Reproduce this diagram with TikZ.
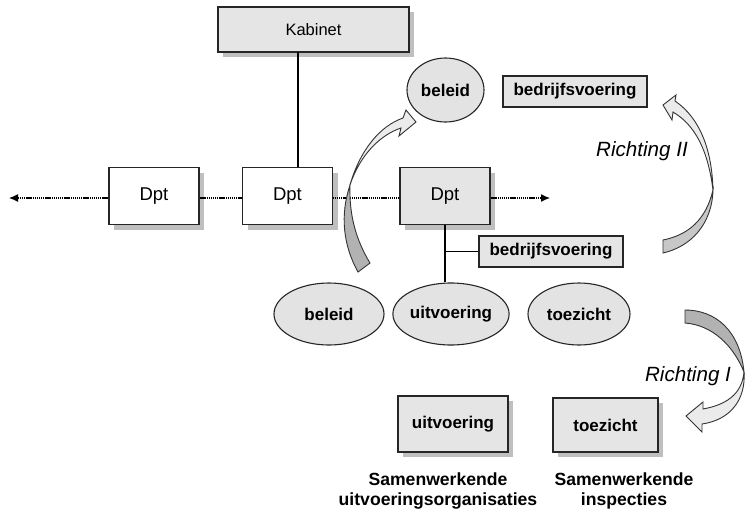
\documentclass[tikz,border=0pt]{standalone}
\usepackage{fontspec}
\setmainfont{Liberation Sans}
\usetikzlibrary{shapes.geometric,shadows,arrows.meta}

\tikzset{
  dptbox/.style={draw=black!85, line width=0.55pt, fill=white, minimum width=45pt, minimum height=28.5pt,
    inner sep=0pt, font=\fontsize{9.25}{11}\selectfont,
    drop shadow={shadow xshift=2.5pt, shadow yshift=-2.5pt, fill=black!25, opacity=1}},
  taakbox/.style={draw=black!85, line width=0.55pt, fill=black!10, inner sep=0pt, font=\fontsize{8.5}{10}\selectfont\bfseries},
  taakoval/.style={ellipse, draw=black!85, line width=0.55pt, fill=black!11, inner sep=0pt, font=\fontsize{8.5}{10}\selectfont\bfseries},
  stippel/.style={line width=0.6pt, dash pattern=on 0.6pt off 0.35pt},
  lichtpijl/.style={draw=black!80, line width=0.45pt, fill=black!8},
  donkerpijl/.style={draw=black!80, line width=0.45pt, fill=black!30},
}

\begin{document}
\begin{tikzpicture}[x=0.5pt, y=-0.5pt]
\useasboundingbox (0,0) rectangle (746,510);

% bovenste laag
\node[dptbox, fill=black!10, minimum width=95.5pt, minimum height=22.5pt,
  font=\fontsize{8.25}{10}\selectfont] (kab) at (313.5,29.5) {Kabinet};

\node[dptbox] (dpt1) at (154,196) {Dpt};
\node[dptbox] (dpt2) at (287.5,196) {Dpt};
\node[dptbox, fill=black!10] (dpt3) at (445,196) {Dpt};

\coordinate (kl) at (298,52);
\draw [line width=0.55pt] (kl) -- (kl |- dpt2.north);

\coordinate (links) at (9,198);
\coordinate (rechts) at (550,198);
\draw [stippel, -{Latex[length=4.5pt,width=4pt]}] (dpt1.west |- links) -- (links);
\draw [stippel] (dpt1.east |- links) -- (dpt2.west |- links);
\draw [stippel] (dpt2.east |- links) -- (dpt3.west |- links);
\draw [stippel, -{Latex[length=4.5pt,width=4pt]}] (dpt3.east |- rechts) -- (rechts);

% taken onder het departement
\node[taakbox, minimum width=72pt, minimum height=15.5pt] (bv2) at (551,251.5) {bedrijfsvoering};
\node[taakoval, minimum width=55pt, minimum height=31pt] (bel2) at (329,314) {beleid};
\node[taakoval, minimum width=54pt, minimum height=31pt] (uit2) at (451,314) {uitvoering};
\node[taakoval, minimum width=51pt, minimum height=31pt] (toe2) at (579,314) {toezicht};

\draw [line width=0.55pt] (dpt3.south) -- (dpt3.south |- uit2.north);
\draw [line width=0.55pt] (dpt3.south |- bv2.west) -- (bv2.west);

% richting II
\node[taakoval, minimum width=38.5pt, minimum height=32pt] (bel1) at (445.5,90) {beleid};
\node[taakbox, minimum width=72pt, minimum height=15.5pt] (bv1) at (575,91.5) {bedrijfsvoering};

% richting I
\node[taakbox, minimum width=55pt, minimum height=28pt,
  drop shadow={shadow xshift=2.5pt, shadow yshift=-2.5pt, fill=black!25, opacity=1}] (uit3) at (453,424) {uitvoering};
\node[taakbox, minimum width=52.5pt, minimum height=27pt,
  drop shadow={shadow xshift=2.5pt, shadow yshift=-2.5pt, fill=black!25, opacity=1}] (toe3) at (605.5,425) {toezicht};

\node[align=center, font=\fontsize{8.8}{10}\selectfont\bfseries] (sam1) at (438,491) {Samenwerkende\\uitvoeringsorganisaties};
\node[align=center, font=\fontsize{8.8}{10}\selectfont\bfseries] (sam2) at (624,491) {Samenwerkende\\inspecties};

\node[font=\fontsize{10.3}{12}\selectfont\itshape] (r2) at (642,151) {Richting II};
\node[font=\fontsize{10.3}{12}\selectfont\itshape] (r1) at (688,376) {Richting I};

% gedraaide pijlen
\draw[donkerpijl] (350,185) .. controls (340,215) and (343,245) .. (358,272)
  -- (370,263) .. controls (356,240) and (349,215) .. (350,185) -- cycle;
\draw[lichtpijl] (350,185) .. controls (360,150) and (380,126) .. (403,118)
  -- (406,110) -- (416,122) -- (399,136) -- (401,128)
  .. controls (380,135) and (360,155) .. (350,185) -- cycle;

\draw[donkerpijl, fill=black!22] (713,190) .. controls (712,225) and (690,247) .. (663,253)
  -- (663,240) .. controls (688,235) and (706,220) .. (713,190) -- cycle;
\draw[lichtpijl] (713,190) .. controls (712,150) and (700,118) .. (675,101)
  -- (676,95) -- (663,105) -- (672,120) -- (673,112)
  .. controls (695,125) and (708,150) .. (713,190) -- cycle;

\draw[donkerpijl] (685,310) .. controls (715,310) and (740,330) .. (744,372)
  -- (744,372) .. controls (733,345) and (712,325) .. (685,323) -- cycle;
\draw[lichtpijl] (744,372) .. controls (742,395) and (725,405) .. (703,409)
  -- (703,402) -- (686,416) -- (702,432) -- (702,424)
  .. controls (730,420) and (746,400) .. (744,372) -- cycle;
\end{tikzpicture}
\end{document}
